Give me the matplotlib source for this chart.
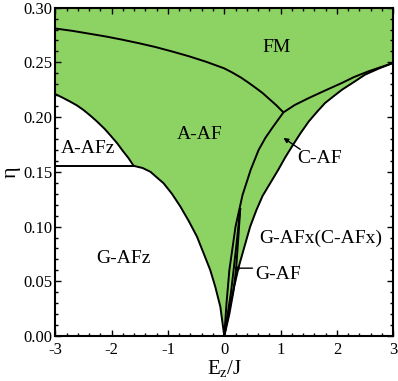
import matplotlib
matplotlib.use("Agg")
import matplotlib.pyplot as plt
from matplotlib.ticker import MultipleLocator, FormatStrFormatter

plt.rcParams['font.family'] = ['Liberation Serif', 'DejaVu Serif']
plt.rcParams['mathtext.fontset'] = 'custom'
plt.rcParams['mathtext.rm'] = 'Liberation Serif'
plt.rcParams['mathtext.it'] = 'Liberation Serif:italic'
plt.rcParams['mathtext.default'] = 'regular'
plt.rcParams['axes.unicode_minus'] = False

# ---- data ----
# A-AFz upper boundary (A-AFz / A-AF)
aafz_E = [-3.0, -2.88, -2.75, -2.62, -2.5, -2.37, -2.25, -2.12, -2.0, -1.9, -1.8, -1.7, -1.61]
aafz_eta = [0.221, 0.218, 0.2145, 0.2108, 0.2065, 0.201, 0.1955, 0.189, 0.182, 0.176,
            0.169, 0.1625, 0.1555]
# A-AFz / G-AFz horizontal boundary
hline_E = [-3.0, -1.61]
hline_eta = [0.1555, 0.1555]
# G-AFz / A-AF boundary
gafz_E = [-1.61, -1.45, -1.31, -1.2, -1.08, -0.93, -0.78, -0.63, -0.485, -0.37, -0.25,
          -0.16, -0.07, 0.0]
gafz_eta = [0.1555, 0.1535, 0.150, 0.145, 0.1397, 0.130, 0.1183, 0.105, 0.0908, 0.076,
            0.0604, 0.045, 0.0268, 0.0]
# FM / A-AF boundary
fm_E = [-3.0, -2.7, -2.41, -2.1, -1.82, -1.5, -1.23, -0.93, -0.63, -0.32, 0.0, 0.15,
        0.3, 0.42, 0.55, 0.68, 0.8, 0.92, 1.05]
fm_eta = [0.2809, 0.2788, 0.2763, 0.2736, 0.2708, 0.2673, 0.2641, 0.260, 0.2556, 0.2505,
          0.2445, 0.2405, 0.236, 0.2318, 0.227, 0.222, 0.2165, 0.211, 0.2043]
# A-AF(FM) / C-AF boundary
inner_E = [0.0, 0.04, 0.09, 0.2, 0.325, 0.47, 0.61, 0.73, 0.85, 1.05, 1.25, 1.5, 1.8,
           2.09, 2.3, 2.56, 2.8, 3.0]
inner_eta = [0.0, 0.03, 0.06, 0.10, 0.129, 0.152, 0.170, 0.181, 0.190, 0.2043, 0.211,
             0.2174, 0.2245, 0.2312, 0.2365, 0.2418, 0.246, 0.2495]
# C-AF / G-AFx boundary
outer_E = [0.0, 0.11, 0.25, 0.36, 0.46, 0.57, 0.68, 0.82, 0.96, 1.08, 1.2, 1.35, 1.5,
           1.65, 1.79, 1.94, 2.09, 2.3, 2.5, 2.75, 3.0]
outer_eta = [0.0, 0.03, 0.062, 0.082, 0.100, 0.115, 0.128, 0.140, 0.152, 0.163, 0.173,
             0.185, 0.196, 0.205, 0.2129, 0.219, 0.225, 0.232, 0.2388, 0.2445, 0.2495]
# G-AF sliver boundaries
gafA_E = [0.0, 0.06, 0.12, 0.165, 0.23, 0.284]
gafA_eta = [0.0, 0.02, 0.04, 0.06, 0.09, 0.117]
gafB_E = [0.0, 0.09, 0.16, 0.208, 0.25, 0.284]
gafB_eta = [0.0, 0.02, 0.04, 0.06, 0.09, 0.117]

xticks = [-3, -2, -1, 0, 1, 2, 3]
yticks = [0.00, 0.05, 0.10, 0.15, 0.20, 0.25, 0.30]

green = '#8DD363'

fig = plt.figure(figsize=(3.98, 3.81), dpi=100)
ax = fig.add_axes([0.139, 0.118, 0.849, 0.862])

# green region: above left boundary and outer right boundary
low_E = aafz_E + gafz_E[1:] + outer_E[1:]
low_eta = aafz_eta + gafz_eta[1:] + outer_eta[1:]
ax.fill_between(low_E, low_eta, 0.30, color=green, lw=0, zorder=1)

lw = 1.4
for xs, ys in [(aafz_E, aafz_eta), (hline_E, hline_eta), (gafz_E, gafz_eta),
               (fm_E, fm_eta), (inner_E, inner_eta), (outer_E, outer_eta),
               (gafA_E, gafA_eta), (gafB_E, gafB_eta)]:
    ax.plot(xs, ys, color='black', lw=lw, zorder=3, solid_capstyle='butt',
            solid_joinstyle='round')

fs = 14
ax.text(0.92, 0.264, 'FM', fontsize=fs, ha='center', va='center')
ax.text(-0.44, 0.184, 'A-AF', fontsize=fs, ha='center', va='center')
ax.text(-2.42, 0.1717, 'A-AFz', fontsize=fs, ha='center', va='center')
ax.text(-1.79, 0.0704, 'G-AFz', fontsize=fs, ha='center', va='center')
ax.text(1.69, 0.1626, 'C-AF', fontsize=fs, ha='center', va='center')
ax.text(1.705, 0.0894, 'G-AFx(C-AFx)', fontsize=fs, ha='center', va='center')
ax.text(0.55, 0.0558, 'G-AF', fontsize=fs, ha='left', va='center')

ax.annotate('', xy=(1.05, 0.181), xytext=(1.35, 0.1705),
            arrowprops=dict(arrowstyle='-|>', color='black', lw=1.0,
                            mutation_scale=7, shrinkA=0, shrinkB=0), zorder=4)
ax.annotate('', xy=(0.17, 0.062), xytext=(0.50, 0.062),
            arrowprops=dict(arrowstyle='-|>', color='black', lw=1.0,
                            mutation_scale=6, shrinkA=0, shrinkB=0), zorder=4)

ax.set_xlim(-3, 3)
ax.set_ylim(0, 0.30)
ax.set_xticks(xticks)
ax.set_yticks(yticks)
ax.xaxis.set_minor_locator(MultipleLocator(0.2))
ax.yaxis.set_minor_locator(MultipleLocator(0.01))
ax.yaxis.set_major_formatter(FormatStrFormatter('%.2f'))
ax.tick_params(which='both', direction='in', top=True, right=True,
               labelsize=12, width=1.0)
ax.tick_params(axis='x', which='both', pad=4)
ax.tick_params(axis='y', which='both', pad=2)
ax.tick_params(which='major', length=4.5)
ax.tick_params(which='minor', length=2.5)
for s in ax.spines.values():
    s.set_linewidth(1.5)
    s.set_zorder(5)

ax.set_xlabel('E$_z$/J', fontsize=15, labelpad=0)
ax.set_ylabel('η', fontsize=16, labelpad=2)

fig.savefig('out.png', dpi=100)
